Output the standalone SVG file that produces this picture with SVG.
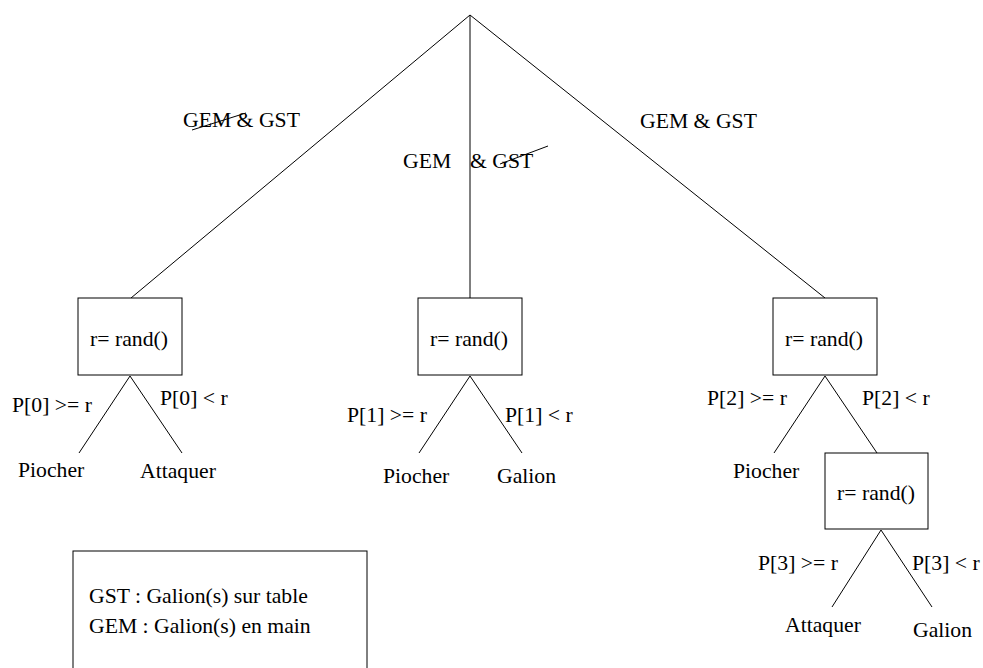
<svg xmlns="http://www.w3.org/2000/svg" width="983" height="668" viewBox="0 0 983 668" font-family="'Liberation Serif', 'Times New Roman', Times, serif">
  <style>
    text { font-family: 'Liberation Serif', 'Times New Roman', Times, serif; font-size: 21.7px; fill: #000; }
    .edge { stroke: #000; stroke-width: 1; fill: none; }
    .box { stroke: #000; stroke-width: 1; fill: #fff; }
    .mid { text-anchor: middle; }
  </style>
  <rect width="983" height="668" fill="#fff"/>

  <!-- connectors -->
  <g id="connectors">
    <line class="edge" x1="470" y1="15" x2="131" y2="298"/>
    <line class="edge" x1="470" y1="15" x2="470" y2="298"/>
    <line class="edge" x1="470" y1="15" x2="825" y2="298"/>
    <!-- branches under box 0 -->
    <line class="edge" x1="130" y1="376" x2="79" y2="453"/>
    <line class="edge" x1="130" y1="376" x2="182" y2="453"/>
    <!-- branches under box 1 -->
    <line class="edge" x1="470" y1="376" x2="419" y2="453"/>
    <line class="edge" x1="470" y1="376" x2="522" y2="453"/>
    <!-- branches under box 2 -->
    <line class="edge" x1="825" y1="376" x2="774" y2="453"/>
    <line class="edge" x1="825" y1="376" x2="877" y2="453"/>
    <!-- branches under box 3 -->
    <line class="edge" x1="881" y1="530" x2="832" y2="607"/>
    <line class="edge" x1="881" y1="530" x2="932" y2="607"/>
    <!-- crossed-out words -->
    <line class="edge" x1="192" y1="130" x2="246" y2="113"/>
    <line class="edge" x1="500" y1="164" x2="548" y2="146"/>
  </g>

  <!-- edge labels -->
  <g id="edge-labels">
    <text x="183" y="127">GEM &amp; GST</text>
    <text x="403" y="168">GEM</text>
    <text x="470" y="168">&amp; GST</text>
    <text x="640" y="128">GEM &amp; GST</text>
    <text x="12" y="412">P[0] &gt;= r</text>
    <text x="160" y="405">P[0] &lt; r</text>
    <text x="347" y="422">P[1] &gt;= r</text>
    <text x="505" y="422">P[1] &lt; r</text>
    <text x="707" y="405">P[2] &gt;= r</text>
    <text x="862" y="405">P[2] &lt; r</text>
    <text x="758" y="570">P[3] &gt;= r</text>
    <text x="912" y="570">P[3] &lt; r</text>
  </g>

  <g id="rand0">
    <rect class="box" x="78" y="298" width="104" height="77"/>
    <text class="mid" x="129" y="346">r= rand()</text>
  </g>
  <g id="rand1">
    <rect class="box" x="418" y="298" width="104" height="77"/>
    <text class="mid" x="469" y="346">r= rand()</text>
  </g>
  <g id="rand2">
    <rect class="box" x="773" y="298" width="104" height="77"/>
    <text class="mid" x="824" y="346">r= rand()</text>
  </g>
  <g id="rand3">
    <rect class="box" x="825" y="453" width="103" height="76"/>
    <text class="mid" x="876" y="500">r= rand()</text>
  </g>

  <!-- leaves -->
  <g id="leaf-piocher0"><text x="18" y="477">Piocher</text></g>
  <g id="leaf-attaquer0"><text x="140" y="478">Attaquer</text></g>
  <g id="leaf-piocher1"><text x="383" y="483">Piocher</text></g>
  <g id="leaf-galion1"><text x="497" y="483">Galion</text></g>
  <g id="leaf-piocher2"><text x="733" y="478">Piocher</text></g>
  <g id="leaf-attaquer3"><text x="785" y="632">Attaquer</text></g>
  <g id="leaf-galion3"><text x="913" y="637">Galion</text></g>

  <!-- legend -->
  <g id="legend">
    <rect class="box" x="73" y="551" width="294" height="130"/>
    <text x="89" y="603">GST : Galion(s) sur table</text>
    <text x="89" y="633">GEM : Galion(s) en main</text>
  </g>
</svg>
